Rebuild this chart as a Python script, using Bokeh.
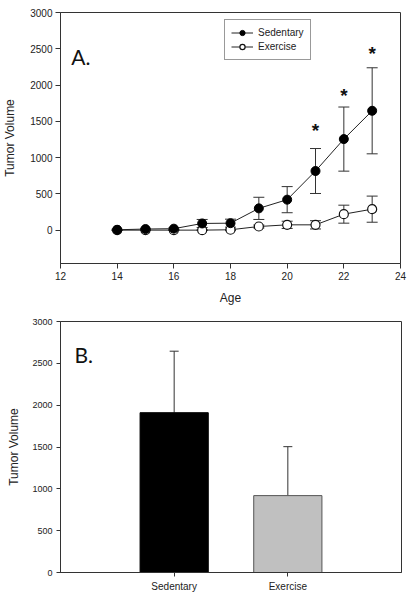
from bokeh.plotting import figure
from bokeh.layouts import column
from bokeh.models import (ColumnDataSource, Whisker, TeeHead, FixedTicker, Legend,
                          LegendItem, Label, FactorRange)
from bokeh.core.properties import value
from bokeh.embed import file_html
from bokeh.resources import INLINE

# ---------------- data ----------------
ages = [14, 15, 16, 17, 18, 19, 20, 21, 22, 23]
sedentary_mean = [5, 15, 20, 92, 96, 300, 420, 815, 1255, 1645]
sedentary_err = [8, 10, 12, 55, 55, 153, 180, 310, 442, 593]
exercise_mean = [0, 0, 0, 0, 5, 50, 73, 73, 220, 289]
exercise_err = [5, 5, 5, 5, 8, 20, 50, 57, 124, 180]
sig_ages = [21, 22, 23]
sig_levels = [1370, 1850, 2430]

groups = ["Sedentary", "Exercise"]
group_means = [1910, 919]
group_err = [735, 585]
group_colors = ["#000000", "#C0C0C0"]
group_edges = ["#000000", "#555555"]

y_ticks = [0, 500, 1000, 1500, 2000, 2500, 3000]
x_ticks = [12, 14, 16, 18, 20, 22, 24]

FONT = "Liberation Sans"
AXIS_COLOR = "#333333"

# ---------------- panel A ----------------
pA = figure(width=407, height=308, x_range=(12, 24), y_range=(-460, 3000),
            output_backend="svg", toolbar_location=None,
            min_border_left=53, min_border_right=7, min_border_top=12, min_border_bottom=45)
pA.xgrid.visible = False
pA.ygrid.visible = False
pA.outline_line_color = AXIS_COLOR
pA.outline_line_width = 1
pA.background_fill_color = "white"
pA.border_fill_color = "white"

for ax in (pA.xaxis[0], pA.yaxis[0]):
    ax.major_label_text_font = FONT
    ax.major_label_text_font_size = "10px"
    ax.major_label_text_color = "#222222"
    ax.axis_label_text_font = FONT
    ax.axis_label_text_font_size = "12px"
    ax.axis_label_text_font_style = "normal"
    ax.axis_label_text_color = "#222222"
    ax.axis_line_color = AXIS_COLOR
    ax.major_tick_line_color = AXIS_COLOR
    ax.minor_tick_line_color = None
    ax.major_tick_in = 0
    ax.major_tick_out = 5
    ax.major_label_standoff = 3

pA.xaxis.ticker = FixedTicker(ticks=x_ticks)
pA.yaxis.ticker = FixedTicker(ticks=y_ticks)
pA.xaxis.axis_label = "Age"
pA.yaxis.axis_label = "Tumor Volume"
pA.xaxis.axis_label_standoff = 8
pA.yaxis.axis_label_standoff = 10

srcS = ColumnDataSource(dict(x=ages, y=sedentary_mean,
                             up=[m + e for m, e in zip(sedentary_mean, sedentary_err)],
                             lo=[m - e for m, e in zip(sedentary_mean, sedentary_err)]))
srcE = ColumnDataSource(dict(x=ages, y=exercise_mean,
                             up=[m + e for m, e in zip(exercise_mean, exercise_err)],
                             lo=[m - e for m, e in zip(exercise_mean, exercise_err)]))

for src in (srcE, srcS):
    w = Whisker(base="x", upper="up", lower="lo", source=src, line_color=AXIS_COLOR,
                line_width=1,
                upper_head=TeeHead(size=11, line_color=AXIS_COLOR, line_width=1),
                lower_head=TeeHead(size=11, line_color=AXIS_COLOR, line_width=1))
    pA.add_layout(w)

lE = pA.line("x", "y", source=srcE, line_color="#222222", line_width=1)
cE = pA.scatter("x", "y", source=srcE, size=9, marker="circle",
                fill_color="white", line_color="#111111", line_width=1.2)
lS = pA.line("x", "y", source=srcS, line_color="#222222", line_width=1)
cS = pA.scatter("x", "y", source=srcS, size=9, marker="circle",
                fill_color="black", line_color="black", line_width=1)

pA.text(x=sig_ages, y=sig_levels, text=["*"] * len(sig_ages),
        text_font=value(FONT), text_font_size="19px", text_font_style="bold",
        text_align="center", text_baseline="middle", text_color="#111111")

pA.add_layout(Label(x=12.38, y=2400, text="A.", text_font="Lato",
                    text_font_size="21px", text_baseline="middle", text_color="#111111"))

legend = Legend(items=[LegendItem(label="Sedentary", renderers=[lS, cS]),
                       LegendItem(label="Exercise", renderers=[lE, cE])],
                location=(164, 203), orientation="vertical",
                border_line_color=AXIS_COLOR, border_line_width=1,
                background_fill_color="white", background_fill_alpha=1,
                label_text_font=FONT, label_text_font_size="10px",
                label_text_color="#222222",
                glyph_width=22, glyph_height=13, label_height=13,
                label_standoff=5, spacing=1, padding=6, margin=0)
pA.add_layout(legend)

# ---------------- panel B ----------------
pB = figure(width=408, height=292,
            x_range=FactorRange(factors=groups, range_padding=0.5,
                                range_padding_units="absolute"),
            y_range=(0, 3000),
            output_backend="svg", toolbar_location=None,
            min_border_left=59, min_border_right=1, min_border_top=13, min_border_bottom=28)
pB.xgrid.visible = False
pB.ygrid.visible = False
pB.outline_line_color = AXIS_COLOR
pB.outline_line_width = 1

pB.yaxis.ticker = FixedTicker(ticks=y_ticks)
for ax, fs in ((pB.xaxis[0], "10px"), (pB.yaxis[0], "9px")):
    ax.major_label_text_font = FONT
    ax.major_label_text_font_size = fs
    ax.major_label_text_color = "#222222"
    ax.axis_label_text_font = FONT
    ax.axis_label_text_font_size = "12px"
    ax.axis_label_text_font_style = "normal"
    ax.axis_label_text_color = "#222222"
    ax.axis_line_color = AXIS_COLOR
    ax.major_tick_line_color = AXIS_COLOR
    ax.minor_tick_line_color = None
    ax.major_tick_in = 0
    ax.major_tick_out = 4
    ax.major_label_standoff = 4
pB.yaxis.axis_label = "Tumor Volume"
pB.yaxis.axis_label_standoff = 8

srcB = ColumnDataSource(dict(x=groups, y=group_means,
                             up=[m + e for m, e in zip(group_means, group_err)],
                             fill=group_colors, edge=group_edges))
pB.vbar(x="x", top="y", width=0.6, source=srcB, fill_color="fill",
        line_color="edge", line_width=1)
pB.add_layout(Whisker(base="x", upper="up", lower="y", source=srcB,
                      line_color=AXIS_COLOR, line_width=1,
                      upper_head=TeeHead(size=9, line_color=AXIS_COLOR, line_width=1),
                      lower_head=None))

pB.add_layout(Label(x=-0.377, y=2600, text="B.",
                    text_font="Lato", text_font_size="21px",
                    text_baseline="middle", text_color="#111111"))

layout = column(pA, pB, spacing=0)
open("out.html", "w").write(file_html(layout, INLINE))
